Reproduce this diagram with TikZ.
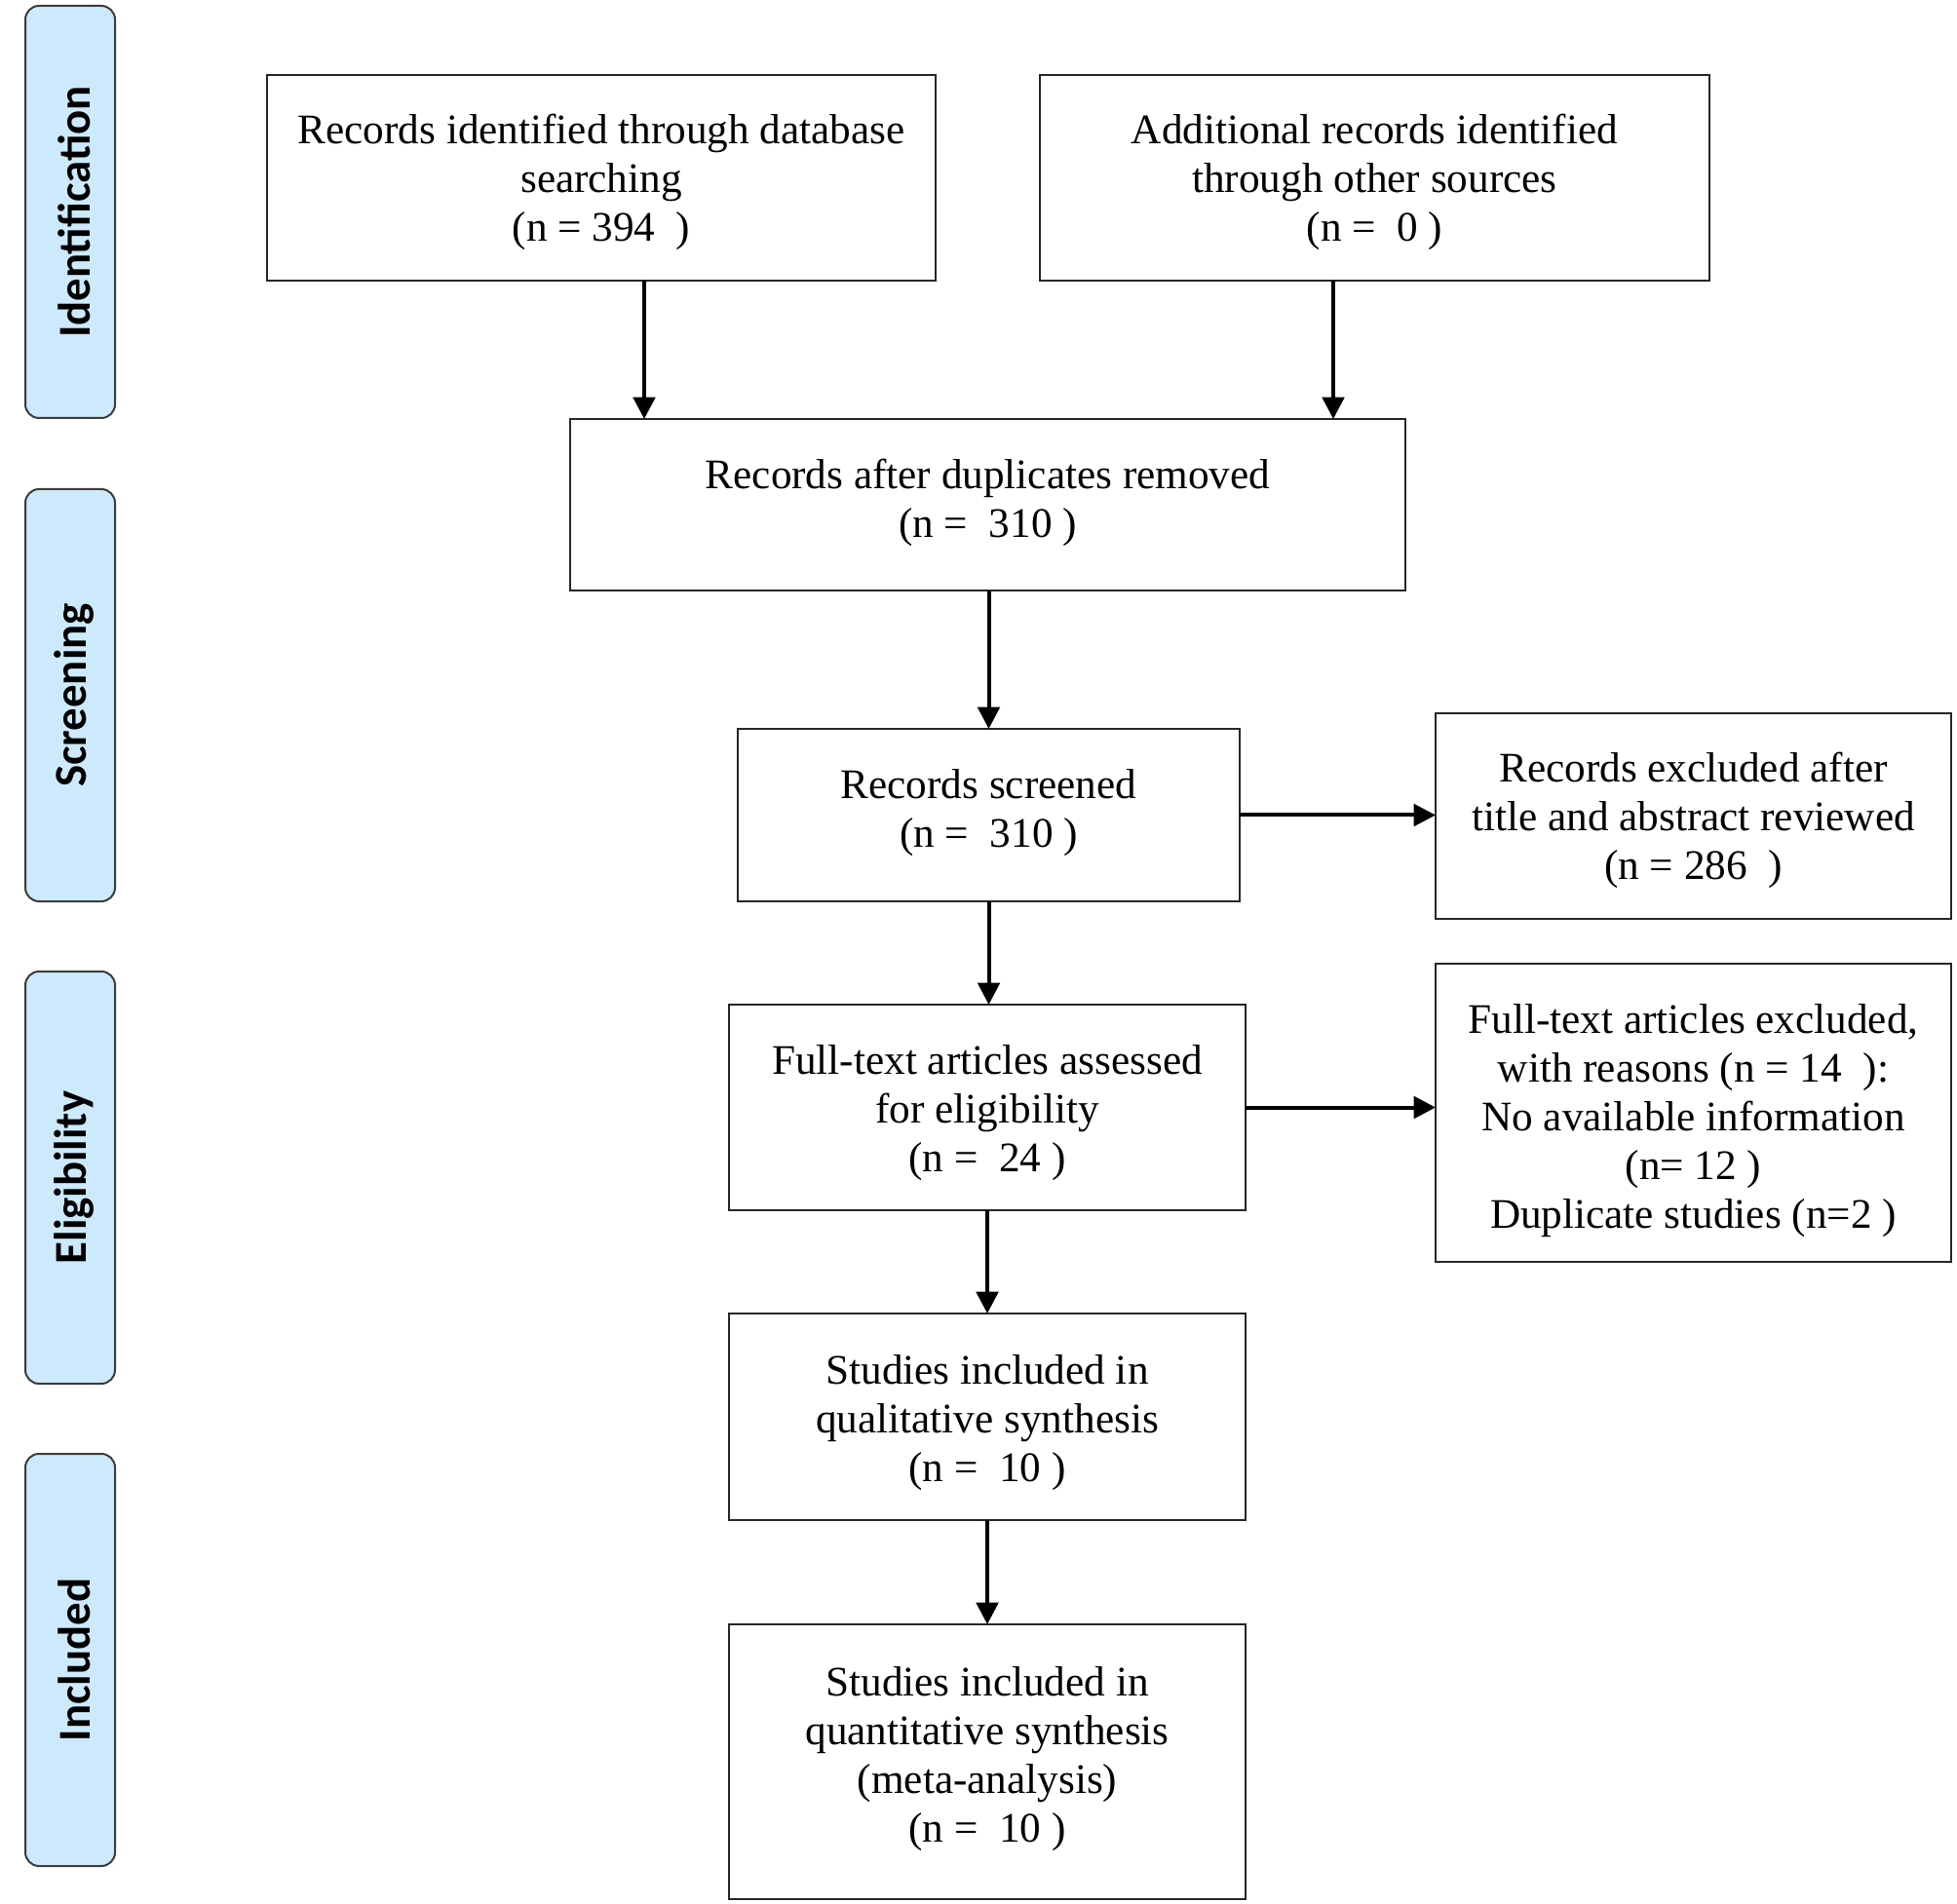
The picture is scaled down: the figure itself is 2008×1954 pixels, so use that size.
\documentclass[tikz,border=0pt]{standalone}
\usepackage{fontspec}
\setmainfont{Liberation Serif}
\newfontfamily\tabfont{Carlito}
\usetikzlibrary{arrows.meta}
\definecolor{tabblue}{RGB}{205,233,252}
\definecolor{tabedge}{RGB}{60,60,60}
\begin{document}
\begin{tikzpicture}[x=0.25pt,y=-0.25pt,
  box/.style={draw=black!85,line width=0.6pt,fill=white,inner sep=0pt,outer sep=0pt},
  boxtext/.style={inner sep=0pt,align=center,font=\fontsize{10.8}{12.5}\selectfont},
  phase/.style={draw=tabedge,line width=0.5pt,fill=tabblue,rounded corners=3.5pt,
    minimum width=23pt,minimum height=105.75pt,inner sep=0pt,outer sep=0pt},
  phaselabel/.style={rotate=90,font=\tabfont\bfseries\fontsize{11.7}{13}\selectfont,inner sep=0pt},
  arr/.style={line width=1pt,-{Triangle[length=5.6pt,width=5.6pt]}}]
\useasboundingbox (0,0) rectangle (2008,1954);
% phase tabs
\node[phase] (t1) at (72,217.5) {};
\node[phaselabel] (l1) at (76,217.5) {Identification};
\node[phase] (t2) at (72,713.5) {};
\node[phaselabel] (l2) at (76,713.5) {Screening};
\node[phase] (t3) at (72,1208.5) {};
\node[phaselabel] (l3) at (76,1208.5) {Eligibility};
\node[phase] (t4) at (72,1703.5) {};
\node[phaselabel] (l4) at (76,1703.5) {Included};
% boxes
\node[box,minimum width=171.5pt,minimum height=52.75pt] (b1) at (617,182.5) {};
\node[boxtext,yshift=-1pt] (b1t) at (b1) {Records identified through database\\searching\\(n = 394\ \ )};
\node[box,minimum width=171.75pt,minimum height=52.75pt] (b2) at (1410.5,182.5) {};
\node[boxtext,yshift=-1pt] (b2t) at (b2) {Additional records identified\\through other sources\\(n =\ \ 0 )};
\node[box,minimum width=214.25pt,minimum height=44pt] (b3) at (1013.5,518) {};
\node[boxtext,yshift=0.5pt] (b3t) at (b3) {Records after duplicates removed\\(n =\ \ 310 )};
\node[box,minimum width=128.75pt,minimum height=44.25pt] (b4) at (1014.5,836.5) {};
\node[boxtext,yshift=0.5pt] (b4t) at (b4) {Records screened\\(n =\ \ 310 )};
\node[box,minimum width=132.25pt,minimum height=52.75pt] (b5) at (1737.5,837.5) {};
\node[boxtext,yshift=-1pt] (b5t) at (b5) {Records excluded after\\title and abstract reviewed\\(n = 286\ \ )};
\node[box,minimum width=132.5pt,minimum height=52.75pt] (b6) at (1013,1136.5) {};
\node[boxtext,yshift=-1.5pt] (b6t) at (b6) {Full-text articles assessed\\for eligibility\\(n =\ \ 24 )};
\node[box,minimum width=132.25pt,minimum height=76.5pt] (b7) at (1737.5,1142) {};
\node[boxtext,yshift=-2pt] (b7t) at (b7) {Full-text articles excluded,\\with reasons (n = 14\ \ ):\\No available information\\(n= 12 )\\Duplicate studies (n=2 )};
\node[box,minimum width=132.5pt,minimum height=53pt] (b8) at (1013,1454) {};
\node[boxtext,yshift=-1.5pt] (b8t) at (b8) {Studies included in\\qualitative synthesis\\(n =\ \ 10 )};
\node[box,minimum width=132.5pt,minimum height=70.5pt] (b9) at (1013,1808) {};
\node[boxtext,yshift=0.75pt] (b9t) at (b9) {Studies included in\\quantitative synthesis\\(meta-analysis)\\(n =\ \ 10 )};
% connectors
\coordinate (c1) at (661,0);
\coordinate (c2) at (1368,0);
\draw[arr] (b1.south -| c1) -- (b3.north -| c1);
\draw[arr] (b2.south -| c2) -- (b3.north -| c2);
\draw[arr] (b3.south -| b4.north) -- (b4.north);
\draw[arr] (b4.south) -- (b4.south |- b6.north);
\draw[arr] (b6.south) -- (b6.south |- b8.north);
\draw[arr] (b8.south) -- (b8.south |- b9.north);
\draw[arr] (b4.east) -- (b4.east -| b5.west);
\draw[arr] (b6.east) -- (b6.east -| b7.west);
\end{tikzpicture}
\end{document}
